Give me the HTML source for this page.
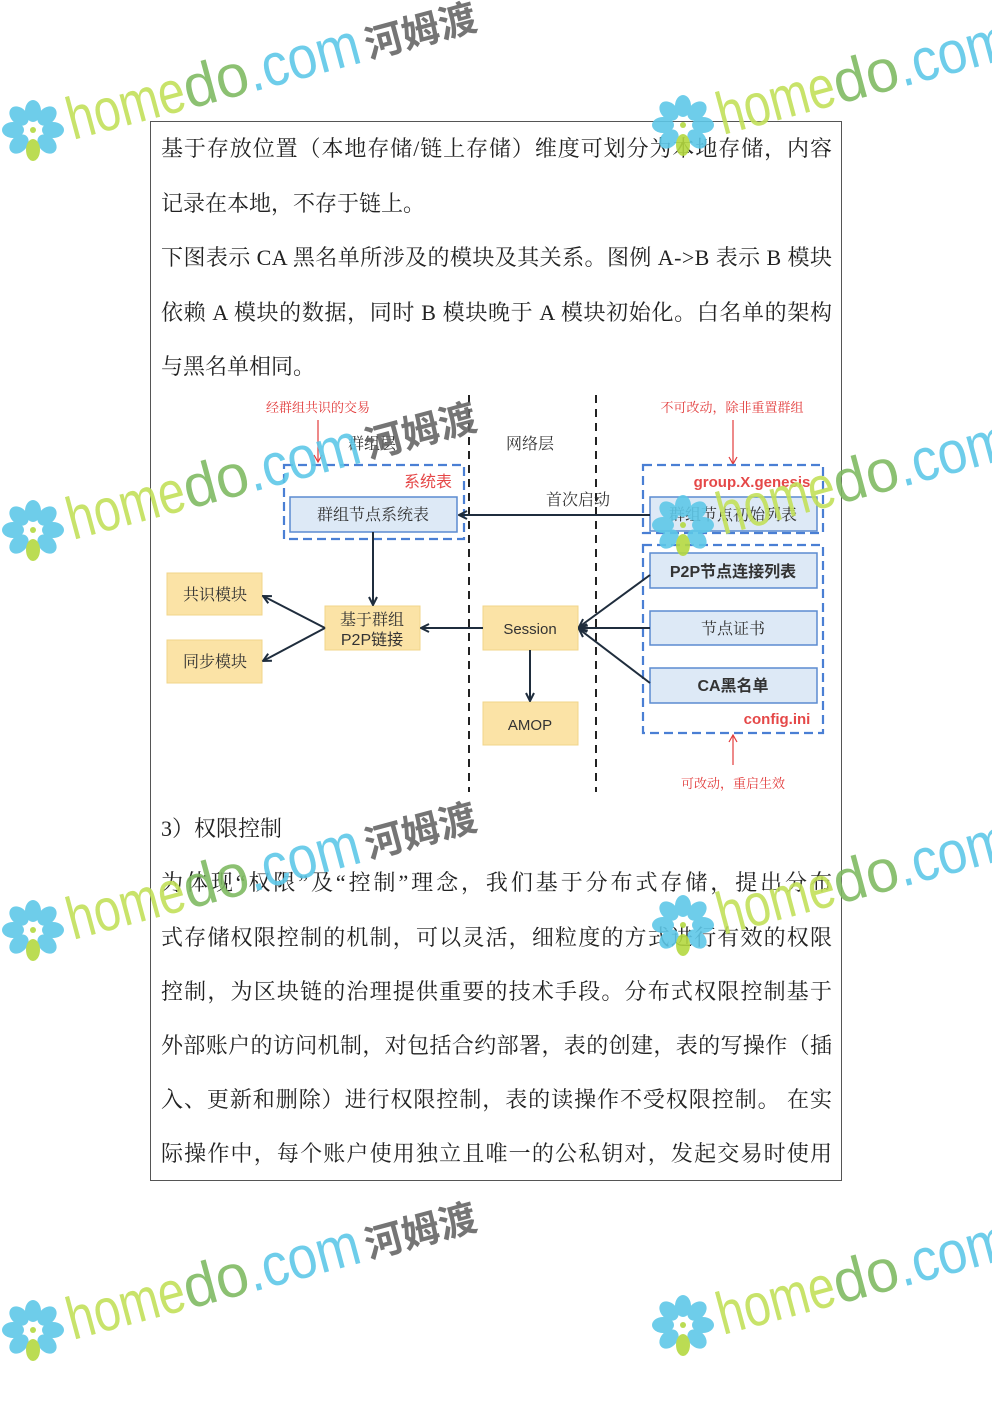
<!DOCTYPE html>
<html><head><meta charset="utf-8">
<style>
html,body{margin:0;padding:0;background:#fff;}
svg{display:block;}
.b{font-family:"Liberation Serif","Noto Serif CJK SC",serif;font-size:22px;fill:#222;}
.d{font-family:"Liberation Serif","Noto Serif CJK SC",serif;font-size:16px;fill:#333;}
.r{font-family:"Liberation Serif","Noto Serif CJK SC",serif;font-size:13px;fill:#e23b3b;}
.s{font-family:"Liberation Sans","Noto Sans CJK SC",sans-serif;}
</style></head><body>
<svg width="992" height="1403" viewBox="0 0 992 1403" xmlns="http://www.w3.org/2000/svg">
<defs>
<marker id="ab" markerWidth="10" markerHeight="10" refX="9" refY="5" orient="auto" markerUnits="userSpaceOnUse"><path d="M1,1 L9,5 L1,9" fill="none" stroke="#1f2d3d" stroke-width="2"/></marker>
<marker id="ar" markerWidth="10" markerHeight="10" refX="9" refY="5" orient="auto" markerUnits="userSpaceOnUse"><path d="M2,1 L9,5 L2,9" fill="none" stroke="#e23b3b" stroke-width="1.2"/></marker>
</defs>
<rect x="150.5" y="121.5" width="691" height="1059" fill="none" stroke="#555" stroke-width="1"/>
<g class="b">
<text x="161" y="156" textLength="671" lengthAdjust="spacing">基于存放位置（本地存储/链上存储）维度可划分为本地存储，内容</text>
<text x="161" y="211">记录在本地，不存于链上。</text>
<text x="161" y="265" textLength="671" lengthAdjust="spacing">下图表示 CA 黑名单所涉及的模块及其关系。图例 A-&gt;B 表示 B 模块</text>
<text x="161" y="320" textLength="671" lengthAdjust="spacing">依赖 A 模块的数据，同时 B 模块晚于 A 模块初始化。白名单的架构</text>
<text x="161" y="374">与黑名单相同。</text>
<text x="161" y="836">3）权限控制</text>
<text x="161" y="890" textLength="671" lengthAdjust="spacing">为体现“权限”及“控制”理念，我们基于分布式存储，提出分布</text>
<text x="161" y="945" textLength="671" lengthAdjust="spacing">式存储权限控制的机制，可以灵活，细粒度的方式进行有效的权限</text>
<text x="161" y="999" textLength="671" lengthAdjust="spacing">控制，为区块链的治理提供重要的技术手段。分布式权限控制基于</text>
<text x="161" y="1053" textLength="671" lengthAdjust="spacing">外部账户的访问机制，对包括合约部署，表的创建，表的写操作（插</text>
<text x="161" y="1107" textLength="671" lengthAdjust="spacing">入、更新和删除）进行权限控制，表的读操作不受权限控制。 在实</text>
<text x="161" y="1161" textLength="671" lengthAdjust="spacing">际操作中，每个账户使用独立且唯一的公私钥对，发起交易时使用</text>
</g>
<!-- diagram -->
<g stroke="#222" stroke-width="2" stroke-dasharray="8,6">
<line x1="469" y1="395" x2="469" y2="792"/><line x1="596" y1="395" x2="596" y2="792"/>
</g>
<text class="r" x="318" y="412" text-anchor="middle">经群组共识的交易</text>
<line x1="318" y1="420" x2="318" y2="462" stroke="#e23b3b" stroke-width="1.2" marker-end="url(#ar)"/>
<text class="r" x="732" y="412" text-anchor="middle">不可改动，除非重置群组</text>
<line x1="733" y1="420" x2="733" y2="464" stroke="#e23b3b" stroke-width="1.2" marker-end="url(#ar)"/>
<text class="d" x="372" y="449" text-anchor="middle">群组层</text>
<text class="d" x="530" y="449" text-anchor="middle">网络层</text>
<g fill="none" stroke="#4a7fd4" stroke-width="2.2" stroke-dasharray="9,5">
<rect x="284" y="465" width="180" height="74"/>
<rect x="643" y="465" width="180" height="68"/>
<rect x="643" y="545" width="180" height="188"/>
</g>
<g fill="#dde9f6" stroke="#5b8bd0" stroke-width="1.5">
<rect x="290" y="497" width="167" height="35"/>
<rect x="650" y="497" width="167" height="34"/>
<rect x="650" y="553" width="167" height="35"/>
<rect x="650" y="611" width="167" height="34"/>
<rect x="650" y="668" width="167" height="35"/>
</g>
<text class="s" x="428" y="487" text-anchor="middle" font-size="16" fill="#e54848">系统表</text>
<text class="s" x="752" y="487" text-anchor="middle" font-size="15" font-weight="bold" fill="#e54848">group.X.genesis</text>
<text class="s" x="777" y="724" text-anchor="middle" font-size="15" font-weight="bold" fill="#e54848">config.ini</text>
<text class="d" x="373" y="520" text-anchor="middle">群组节点系统表</text>
<text class="d" x="733" y="520" text-anchor="middle">群组节点初始列表</text>
<text class="d s" x="733" y="577" text-anchor="middle" font-weight="bold" font-size="15">P2P节点连接列表</text>
<text class="d" x="733" y="634" text-anchor="middle">节点证书</text>
<text class="d s" x="733" y="691" text-anchor="middle" font-weight="bold" font-size="15">CA黑名单</text>
<g fill="#fbe3a6" stroke="#f0d48a" stroke-width="1">
<rect x="167" y="573" width="95" height="42"/>
<rect x="167" y="640" width="95" height="43"/>
<rect x="325" y="606" width="95" height="44"/>
<rect x="483" y="606" width="95" height="44"/>
<rect x="483" y="702" width="95" height="43"/>
</g>
<text class="d" x="215" y="600" text-anchor="middle">共识模块</text>
<text class="d" x="215" y="667" text-anchor="middle">同步模块</text>
<text class="d" x="372" y="625" text-anchor="middle">基于群组</text>
<text class="d s" x="372" y="645" text-anchor="middle" font-size="15">P2P链接</text>
<text class="s" x="530" y="634" text-anchor="middle" font-size="15" fill="#333">Session</text>
<text class="s" x="530" y="730" text-anchor="middle" font-size="15" fill="#333">AMOP</text>
<text class="d" x="578" y="505" text-anchor="middle">首次启动</text>
<g stroke="#1f2d3d" stroke-width="2" fill="none" marker-end="url(#ab)">
<line x1="650" y1="515" x2="459" y2="515"/>
<line x1="373" y1="532" x2="373" y2="605"/>
<line x1="325" y1="628" x2="263" y2="596"/>
<line x1="325" y1="628" x2="263" y2="661"/>
<line x1="483" y1="628" x2="421" y2="628"/>
<line x1="650" y1="575" x2="579" y2="627"/>
<line x1="650" y1="628" x2="579" y2="628"/>
<line x1="650" y1="683" x2="579" y2="629"/>
<line x1="530" y1="650" x2="530" y2="701"/>
</g>
<line x1="733" y1="765" x2="733" y2="735" stroke="#e23b3b" stroke-width="1.2" marker-end="url(#ar)"/>
<text class="r" x="733" y="788" text-anchor="middle">可改动，重启生效</text>
<!-- watermarks -->
<g opacity="0.9">
<g transform="translate(33,130)"><g fill="#5ec8e8"><ellipse cx="0" cy="-19" rx="8" ry="11"/><ellipse cx="14" cy="-14" rx="8" ry="11" transform="rotate(45 14 -14)"/><ellipse cx="20" cy="0" rx="8" ry="11" transform="rotate(90 20 0)"/><ellipse cx="14" cy="14" rx="8" ry="11" transform="rotate(135 14 14)"/><ellipse cx="-14" cy="14" rx="8" ry="11" transform="rotate(-135 -14 14)"/><ellipse cx="-20" cy="0" rx="8" ry="11" transform="rotate(90 -20 0)"/><ellipse cx="-14" cy="-14" rx="8" ry="11" transform="rotate(-45 -14 -14)"/></g><ellipse cx="0" cy="20" rx="7" ry="11" fill="#b4d840"/><circle cx="0" cy="0" r="3" fill="#b4d840"/>
<g transform="rotate(-15)" font-family="Liberation Sans,sans-serif"><text x="36" y="20" font-size="60" fill="#c2e05a" textLength="120" lengthAdjust="spacingAndGlyphs">home</text><text x="156" y="20" font-size="60" fill="#7fba62" textLength="66" lengthAdjust="spacingAndGlyphs">do</text><text x="222" y="20" font-size="60" fill="#5ec8e8" textLength="115" lengthAdjust="spacingAndGlyphs">.com</text><text x="343" y="18" font-size="38" font-weight="bold" fill="#666" font-family="Noto Sans CJK SC,sans-serif">河姆渡</text></g></g>
<g transform="translate(683,125)"><g fill="#5ec8e8"><ellipse cx="0" cy="-19" rx="8" ry="11"/><ellipse cx="14" cy="-14" rx="8" ry="11" transform="rotate(45 14 -14)"/><ellipse cx="20" cy="0" rx="8" ry="11" transform="rotate(90 20 0)"/><ellipse cx="14" cy="14" rx="8" ry="11" transform="rotate(135 14 14)"/><ellipse cx="-14" cy="14" rx="8" ry="11" transform="rotate(-135 -14 14)"/><ellipse cx="-20" cy="0" rx="8" ry="11" transform="rotate(90 -20 0)"/><ellipse cx="-14" cy="-14" rx="8" ry="11" transform="rotate(-45 -14 -14)"/></g><ellipse cx="0" cy="20" rx="7" ry="11" fill="#b4d840"/><circle cx="0" cy="0" r="3" fill="#b4d840"/>
<g transform="rotate(-15)" font-family="Liberation Sans,sans-serif"><text x="36" y="20" font-size="60" fill="#c2e05a" textLength="120" lengthAdjust="spacingAndGlyphs">home</text><text x="156" y="20" font-size="60" fill="#7fba62" textLength="66" lengthAdjust="spacingAndGlyphs">do</text><text x="222" y="20" font-size="60" fill="#5ec8e8" textLength="115" lengthAdjust="spacingAndGlyphs">.com</text></g></g>
<g transform="translate(33,530)"><g fill="#5ec8e8"><ellipse cx="0" cy="-19" rx="8" ry="11"/><ellipse cx="14" cy="-14" rx="8" ry="11" transform="rotate(45 14 -14)"/><ellipse cx="20" cy="0" rx="8" ry="11" transform="rotate(90 20 0)"/><ellipse cx="14" cy="14" rx="8" ry="11" transform="rotate(135 14 14)"/><ellipse cx="-14" cy="14" rx="8" ry="11" transform="rotate(-135 -14 14)"/><ellipse cx="-20" cy="0" rx="8" ry="11" transform="rotate(90 -20 0)"/><ellipse cx="-14" cy="-14" rx="8" ry="11" transform="rotate(-45 -14 -14)"/></g><ellipse cx="0" cy="20" rx="7" ry="11" fill="#b4d840"/><circle cx="0" cy="0" r="3" fill="#b4d840"/>
<g transform="rotate(-15)" font-family="Liberation Sans,sans-serif"><text x="36" y="20" font-size="60" fill="#c2e05a" textLength="120" lengthAdjust="spacingAndGlyphs">home</text><text x="156" y="20" font-size="60" fill="#7fba62" textLength="66" lengthAdjust="spacingAndGlyphs">do</text><text x="222" y="20" font-size="60" fill="#5ec8e8" textLength="115" lengthAdjust="spacingAndGlyphs">.com</text><text x="343" y="18" font-size="38" font-weight="bold" fill="#666" font-family="Noto Sans CJK SC,sans-serif">河姆渡</text></g></g>
<g transform="translate(683,525)"><g fill="#5ec8e8"><ellipse cx="0" cy="-19" rx="8" ry="11"/><ellipse cx="14" cy="-14" rx="8" ry="11" transform="rotate(45 14 -14)"/><ellipse cx="20" cy="0" rx="8" ry="11" transform="rotate(90 20 0)"/><ellipse cx="14" cy="14" rx="8" ry="11" transform="rotate(135 14 14)"/><ellipse cx="-14" cy="14" rx="8" ry="11" transform="rotate(-135 -14 14)"/><ellipse cx="-20" cy="0" rx="8" ry="11" transform="rotate(90 -20 0)"/><ellipse cx="-14" cy="-14" rx="8" ry="11" transform="rotate(-45 -14 -14)"/></g><ellipse cx="0" cy="20" rx="7" ry="11" fill="#b4d840"/><circle cx="0" cy="0" r="3" fill="#b4d840"/>
<g transform="rotate(-15)" font-family="Liberation Sans,sans-serif"><text x="36" y="20" font-size="60" fill="#c2e05a" textLength="120" lengthAdjust="spacingAndGlyphs">home</text><text x="156" y="20" font-size="60" fill="#7fba62" textLength="66" lengthAdjust="spacingAndGlyphs">do</text><text x="222" y="20" font-size="60" fill="#5ec8e8" textLength="115" lengthAdjust="spacingAndGlyphs">.com</text></g></g>
<g transform="translate(33,930)"><g fill="#5ec8e8"><ellipse cx="0" cy="-19" rx="8" ry="11"/><ellipse cx="14" cy="-14" rx="8" ry="11" transform="rotate(45 14 -14)"/><ellipse cx="20" cy="0" rx="8" ry="11" transform="rotate(90 20 0)"/><ellipse cx="14" cy="14" rx="8" ry="11" transform="rotate(135 14 14)"/><ellipse cx="-14" cy="14" rx="8" ry="11" transform="rotate(-135 -14 14)"/><ellipse cx="-20" cy="0" rx="8" ry="11" transform="rotate(90 -20 0)"/><ellipse cx="-14" cy="-14" rx="8" ry="11" transform="rotate(-45 -14 -14)"/></g><ellipse cx="0" cy="20" rx="7" ry="11" fill="#b4d840"/><circle cx="0" cy="0" r="3" fill="#b4d840"/>
<g transform="rotate(-15)" font-family="Liberation Sans,sans-serif"><text x="36" y="20" font-size="60" fill="#c2e05a" textLength="120" lengthAdjust="spacingAndGlyphs">home</text><text x="156" y="20" font-size="60" fill="#7fba62" textLength="66" lengthAdjust="spacingAndGlyphs">do</text><text x="222" y="20" font-size="60" fill="#5ec8e8" textLength="115" lengthAdjust="spacingAndGlyphs">.com</text><text x="343" y="18" font-size="38" font-weight="bold" fill="#666" font-family="Noto Sans CJK SC,sans-serif">河姆渡</text></g></g>
<g transform="translate(683,925)"><g fill="#5ec8e8"><ellipse cx="0" cy="-19" rx="8" ry="11"/><ellipse cx="14" cy="-14" rx="8" ry="11" transform="rotate(45 14 -14)"/><ellipse cx="20" cy="0" rx="8" ry="11" transform="rotate(90 20 0)"/><ellipse cx="14" cy="14" rx="8" ry="11" transform="rotate(135 14 14)"/><ellipse cx="-14" cy="14" rx="8" ry="11" transform="rotate(-135 -14 14)"/><ellipse cx="-20" cy="0" rx="8" ry="11" transform="rotate(90 -20 0)"/><ellipse cx="-14" cy="-14" rx="8" ry="11" transform="rotate(-45 -14 -14)"/></g><ellipse cx="0" cy="20" rx="7" ry="11" fill="#b4d840"/><circle cx="0" cy="0" r="3" fill="#b4d840"/>
<g transform="rotate(-15)" font-family="Liberation Sans,sans-serif"><text x="36" y="20" font-size="60" fill="#c2e05a" textLength="120" lengthAdjust="spacingAndGlyphs">home</text><text x="156" y="20" font-size="60" fill="#7fba62" textLength="66" lengthAdjust="spacingAndGlyphs">do</text><text x="222" y="20" font-size="60" fill="#5ec8e8" textLength="115" lengthAdjust="spacingAndGlyphs">.com</text></g></g>
<g transform="translate(33,1330)"><g fill="#5ec8e8"><ellipse cx="0" cy="-19" rx="8" ry="11"/><ellipse cx="14" cy="-14" rx="8" ry="11" transform="rotate(45 14 -14)"/><ellipse cx="20" cy="0" rx="8" ry="11" transform="rotate(90 20 0)"/><ellipse cx="14" cy="14" rx="8" ry="11" transform="rotate(135 14 14)"/><ellipse cx="-14" cy="14" rx="8" ry="11" transform="rotate(-135 -14 14)"/><ellipse cx="-20" cy="0" rx="8" ry="11" transform="rotate(90 -20 0)"/><ellipse cx="-14" cy="-14" rx="8" ry="11" transform="rotate(-45 -14 -14)"/></g><ellipse cx="0" cy="20" rx="7" ry="11" fill="#b4d840"/><circle cx="0" cy="0" r="3" fill="#b4d840"/>
<g transform="rotate(-15)" font-family="Liberation Sans,sans-serif"><text x="36" y="20" font-size="60" fill="#c2e05a" textLength="120" lengthAdjust="spacingAndGlyphs">home</text><text x="156" y="20" font-size="60" fill="#7fba62" textLength="66" lengthAdjust="spacingAndGlyphs">do</text><text x="222" y="20" font-size="60" fill="#5ec8e8" textLength="115" lengthAdjust="spacingAndGlyphs">.com</text><text x="343" y="18" font-size="38" font-weight="bold" fill="#666" font-family="Noto Sans CJK SC,sans-serif">河姆渡</text></g></g>
<g transform="translate(683,1325)"><g fill="#5ec8e8"><ellipse cx="0" cy="-19" rx="8" ry="11"/><ellipse cx="14" cy="-14" rx="8" ry="11" transform="rotate(45 14 -14)"/><ellipse cx="20" cy="0" rx="8" ry="11" transform="rotate(90 20 0)"/><ellipse cx="14" cy="14" rx="8" ry="11" transform="rotate(135 14 14)"/><ellipse cx="-14" cy="14" rx="8" ry="11" transform="rotate(-135 -14 14)"/><ellipse cx="-20" cy="0" rx="8" ry="11" transform="rotate(90 -20 0)"/><ellipse cx="-14" cy="-14" rx="8" ry="11" transform="rotate(-45 -14 -14)"/></g><ellipse cx="0" cy="20" rx="7" ry="11" fill="#b4d840"/><circle cx="0" cy="0" r="3" fill="#b4d840"/>
<g transform="rotate(-15)" font-family="Liberation Sans,sans-serif"><text x="36" y="20" font-size="60" fill="#c2e05a" textLength="120" lengthAdjust="spacingAndGlyphs">home</text><text x="156" y="20" font-size="60" fill="#7fba62" textLength="66" lengthAdjust="spacingAndGlyphs">do</text><text x="222" y="20" font-size="60" fill="#5ec8e8" textLength="115" lengthAdjust="spacingAndGlyphs">.com</text></g></g>
</g>
</svg>
</body></html>
